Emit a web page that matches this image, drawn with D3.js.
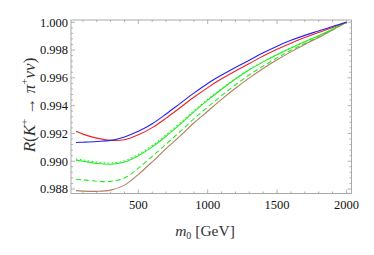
<!DOCTYPE html>
<html>
<head>
<meta charset="utf-8">
<script src="https://cdn.jsdelivr.net/npm/d3@7"></script>
<style>
  body { margin: 0; background: #fff; }
</style>
</head>
<body>
<script>
var W = 374, H = 255;
var serif = "Liberation Serif, Times New Roman, DejaVu Serif, serif";

// data
var m0 = [50, 100, 200, 300, 400, 500, 600, 700, 800, 900, 1000, 1100, 1200, 1300, 1400, 1500, 1600, 1700, 1800, 1900, 2000];
var blue_vals = [0.99135, 0.99137, 0.99142, 0.99150, 0.99175, 0.99215, 0.99270, 0.99340, 0.99415, 0.99490, 0.99560, 0.99620, 0.99675, 0.99727, 0.99780, 0.99828, 0.99870, 0.99906, 0.99938, 0.99970, 1.0];
var red_vals = [0.99215, 0.99195, 0.99166, 0.99150, 0.99155, 0.99190, 0.99242, 0.99310, 0.99385, 0.99460, 0.99530, 0.99593, 0.99650, 0.99703, 0.99757, 0.99806, 0.99850, 0.99890, 0.99927, 0.99963, 1.0];
var green_vals = [0.99008, 0.99000, 0.98984, 0.98978, 0.98994, 0.99040, 0.99103, 0.99180, 0.99265, 0.99355, 0.99440, 0.99518, 0.99592, 0.99658, 0.99715, 0.99767, 0.99815, 0.99860, 0.99903, 0.99950, 1.0];
var green_dot_vals = [0.99016, 0.99009, 0.98994, 0.98987, 0.99003, 0.99050, 0.99113, 0.99190, 0.99275, 0.99363, 0.99446, 0.99522, 0.99595, 0.99660, 0.99717, 0.99768, 0.99816, 0.99861, 0.99904, 0.99950, 1.0];
var green_dash_vals = [0.98870, 0.98866, 0.98856, 0.98855, 0.98880, 0.98950, 0.99035, 0.99123, 0.99212, 0.99305, 0.99390, 0.99472, 0.99550, 0.99622, 0.99685, 0.99744, 0.99798, 0.99848, 0.99895, 0.99947, 1.0];
var brown_vals = [0.98788, 0.98785, 0.98783, 0.98792, 0.98828, 0.98905, 0.98995, 0.99090, 0.99180, 0.99275, 0.99360, 0.99445, 0.99525, 0.99600, 0.99668, 0.99730, 0.99787, 0.99840, 0.99890, 0.99945, 1.0];

var x_ticks = [500, 1000, 1500, 2000];
var y_ticks = [0.988, 0.990, 0.992, 0.994, 0.996, 0.998, 1.000];

var frame_left = 71, frame_right = 351.5, frame_top = 20, frame_bottom = 193.5;
var frame_color = "#a0a0a0";

var x = d3.scaleLinear().domain([0, 2000]).range([69, 346.4]);
var y = d3.scaleLinear().domain([0.988, 1.0]).range([189, 22.3]);

var svg = d3.select("body").append("svg")
    .attr("width", W).attr("height", H);

// ticks, inside the frame on all four sides
var xminor = d3.range(100, 2001, 100);
var yminor = d3.range(0, 31).map(function(i){ return 0.988 + i*0.0004; })
    .filter(function(v){ return v >= 0.9874 && v <= 1.0004; });

var tk = svg.append("g").attr("stroke", frame_color).attr("stroke-width", 0.8);
xminor.forEach(function(v){
  var len = (v % 500 == 0) ? 4 : 2;
  tk.append("line").attr("x1", x(v)).attr("x2", x(v))
    .attr("y1", frame_bottom).attr("y2", frame_bottom - len);
  tk.append("line").attr("x1", x(v)).attr("x2", x(v))
    .attr("y1", frame_top).attr("y2", frame_top + len);
});
yminor.forEach(function(v, i){
  var major = Math.abs(Math.round(v*500) - v*500) < 1e-6;
  var len = major ? 4 : 2;
  tk.append("line").attr("x1", frame_left).attr("x2", frame_left + len)
    .attr("y1", y(v)).attr("y2", y(v));
  tk.append("line").attr("x1", frame_right).attr("x2", frame_right - len)
    .attr("y1", y(v)).attr("y2", y(v));
});

// frame
svg.append("rect")
  .attr("x", frame_left).attr("y", frame_top)
  .attr("width", frame_right - frame_left).attr("height", frame_bottom - frame_top)
  .attr("fill", "none").attr("stroke", frame_color).attr("stroke-width", 0.9);

// tick labels
svg.selectAll(".xlab").data(x_ticks).enter().append("text")
  .attr("class", "xlab")
  .attr("x", function(d){ return x(d); })
  .attr("y", 209)
  .attr("text-anchor", "middle")
  .style("font-family", serif)
  .attr("font-size", 12.5)
  .attr("fill", "#111")
  .text(function(d){ return d; });

svg.selectAll(".ylab").data(y_ticks).enter().append("text")
  .attr("class", "ylab")
  .attr("x", 68)
  .attr("y", function(d){ return y(d) + 4.3; })
  .attr("text-anchor", "end")
  .style("font-family", serif)
  .attr("font-size", 12.5)
  .attr("fill", "#111")
  .text(function(d){ return d3.format(".3f")(d); });

// curves
var line = d3.line()
  .x(function(d){ return x(d[0]); })
  .y(function(d){ return y(d[1]); })
  .curve(d3.curveCatmullRom.alpha(0.5));

var series = [
  {vals: green_dash_vals, color: "#22ee22", dash: "5,3"},
  {vals: green_dot_vals, color: "#22ee22", dash: "1.5,2.5"},
  {vals: brown_vals, color: "#b08060", dash: null},
  {vals: green_vals, color: "#22ee22", dash: null},
  {vals: red_vals, color: "#ee2222", dash: null},
  {vals: blue_vals, color: "#2222ee", dash: null}
];

series.forEach(function(s){
  svg.append("path")
    .datum(m0.map(function(m, i){ return [m, s.vals[i]]; }))
    .attr("d", line)
    .attr("fill", "none")
    .attr("stroke", s.color)
    .attr("stroke-width", 1.1)
    .attr("stroke-dasharray", s.dash);
});

// axis titles
var xt = svg.append("text")
  .attr("x", 205).attr("y", 236)
  .attr("text-anchor", "middle")
  .style("font-family", serif)
  .attr("font-size", 15.5)
  .attr("fill", "#333");
xt.append("tspan").attr("font-style", "italic").text("m");
xt.append("tspan").attr("font-size", 10).attr("dy", 3).text("0");
xt.append("tspan").attr("dy", -3).text(" [GeV]");

var yt = svg.append("text")
  .attr("transform", "translate(35,105) rotate(-90)")
  .attr("text-anchor", "middle")
  .style("font-family", serif)
  .attr("font-size", 17)
  .attr("fill", "#333");
yt.append("tspan").attr("font-style", "italic").text("R");
yt.append("tspan").text("(");
yt.append("tspan").attr("font-style", "italic").text("K");
yt.append("tspan").attr("font-size", 11).attr("dy", -7).text("+");
yt.append("tspan").attr("dy", 7).text(" \u2192 ");
yt.append("tspan").attr("font-style", "italic").text("\u03c0");
yt.append("tspan").attr("font-size", 11).attr("dy", -7).text("+");
yt.append("tspan").attr("dy", 7).attr("font-style", "italic").text("\u03bd\u03bd");
yt.append("tspan").text(")");
</script>
</body>
</html>
